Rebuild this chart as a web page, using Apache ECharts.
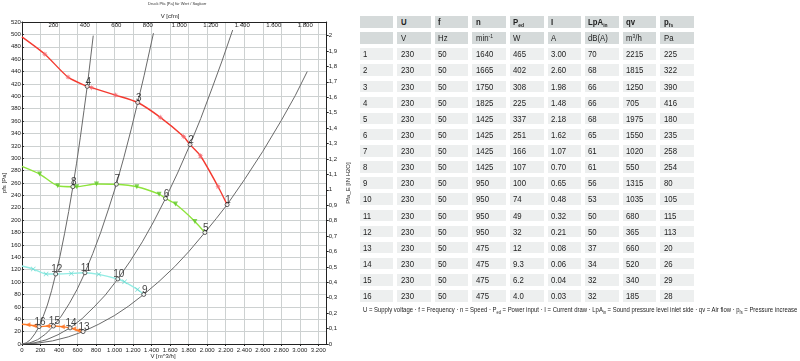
<!DOCTYPE html>
<html><head><meta charset="utf-8">
<script src="https://cdn.jsdelivr.net/npm/echarts@6/dist/echarts.min.js"></script>
<style>
html,body{margin:0;padding:0;background:#fff;width:800px;height:361px;overflow:hidden}
#chart{position:absolute;left:0;top:0;width:800px;height:361px}
.cell{position:absolute;height:11.5px;line-height:11.5px;font-family:"Liberation Sans",Arial,sans-serif;font-size:9.5px;color:#222;white-space:nowrap;box-sizing:border-box;padding-left:3.3px;overflow:visible}
.cell span{display:inline-block;transform:scaleX(0.82);transform-origin:0 50%}
.cell sub,.cell sup{font-size:6px;line-height:0}
.cell sub{vertical-align:-2px}
.cell sup{vertical-align:3px}
#note{position:absolute;left:363px;top:304px;line-height:11px;font-family:"Liberation Sans",Arial,sans-serif;font-size:7.6px;color:#222;white-space:nowrap;transform-origin:0 0}
#note sub{font-size:5px;line-height:0;vertical-align:-1.5px}
</style></head><body>
<div id="chart"></div>
<div id="table"></div>
<div id="note"></div>
<script>
// ---------- table data ----------
const rowIds = ['1','2','3','4','5','6','7','8','9','10','11','12','13','14','15','16'];
const colHeads = ['U','f','n','P<sub>ed</sub>','I','LpA<sub>in</sub>','qv','p<sub>fs</sub>'];
const colUnits = ['V','Hz','min<sup>-1</sup>','W','A','dB(A)','m<sup>3</sup>/h','Pa'];
const voltage = [230,230,230,230,230,230,230,230,230,230,230,230,230,230,230,230];
const frequency = [50,50,50,50,50,50,50,50,50,50,50,50,50,50,50,50];
const speed = [1640,1665,1750,1825,1425,1425,1425,1425,950,950,950,950,475,475,475,475];
const powerInput = ['465','402','308','225','337','251','166','107','100','74','49','32','12','9.3','6.2','4.0'];
const current = ['3.00','2.60','1.98','1.48','2.18','1.62','1.07','0.70','0.65','0.48','0.32','0.21','0.08','0.06','0.04','0.03'];
const soundLevel = [70,68,66,66,68,65,61,61,56,53,50,50,37,34,32,32];
const airFlow = [2215,1815,1250,705,1975,1550,1020,550,1315,1035,680,365,660,520,340,185];
const pressure = [225,322,390,416,180,235,258,254,80,105,115,113,20,26,29,28];
const footnote = 'U = Supply voltage · f = Frequency · n = Speed · P<sub>ed</sub> = Power input · I = Current draw · LpA<sub>in</sub> = Sound pressure level inlet side · qv = Air flow · p<sub>fs</sub> = Pressure increase';

// ---------- chart data ----------
const chartTitle = 'Druck Pfa [Pa] für Wert / Sogkorr';
const topAxisName = 'V [cfm]';
const bottomAxisName = 'V [m^3/h]';
const xTicksM3h = [0,200,400,600,800,1000,1200,1400,1600,1800,2000,2200,2400,2600,2800,3000,3200];
const curveGroups = [[0,1,2,3],[4,5,6,7],[8,9,10,11],[12,13,14,15]];      // operating points of each speed curve
const systemGroups = [[12,8,4,0],[13,9,5,1],[14,10,6,2],[15,11,7,3]];    // operating points on each system curve
const curveStartPressure = [496, 287, 126, 32];
const redMarkers = [[248,468],[498,431],[752,414],[1010,402],[1494,366],[1745,335],[1927,304],[2118,254]];
const greenMarkers = [[192,274.5],[387,255.5],[592,254],[805,258.5],[1240,254],[1481,242],[1658,226],[1867,198]];
const cyanMarkers = [[122,121],[261,113],[533,114],[830,112.5],[1108,100.5],[1248,88]];
const orangeMarkers = [[65,31],[133,29.5],[279,29],[436,28],[560,24.5],[605,22]];
const systemA = [[0,0],[165,1.3],[330,5],[500,11.5],[830,32],[1000,46],[1150,61],[1480,101],[1650,125],[1800,149],[2100,203],[2400,265],[2600,311],[2800,361],[2950,401],[3080,440]];
const systemB = [[0,0],[130,1.7],[260,6.6],[390,15],[650,41],[780,60],[900,79],[1170,134],[1300,165],[1420,197],[1680,276],[1930,364],[2050,412],[2160,457],[2275,507]];
const systemC = [[0,0],[85,1.8],[170,7],[255,16],[425,45],[510,65],[595,88],[765,146],[850,180],[935,218],[1100,301],[1180,347],[1320,434],[1420,502]];
const systemD = [[0,0],[46,1.8],[92,7],[140,16.5],[230,44.5],[275,63],[320,86],[410,141],[460,178],[505,214],[590,292],[630,333],[670,377],[740,460],[770,498]];

const X_MAX = 3290, Y_MAX = 520;
const CFM = 1.69901, INH2O = 249.0889;

function thousands(v){ v = Math.round(v); return v >= 1000 ? Math.floor(v/1000) + '.' + String(v%1000).padStart(3,'0') : String(v); }

const opPoints = airFlow.map((v,i)=>[v, pressure[i]]);
const markerSets = [redMarkers, greenMarkers, cyanMarkers, orangeMarkers];
const systemSets = [systemA, systemB, systemC, systemD];
const curveColors = ['#f43a30','#8ee43c','#93ece4','#ff7d2a'];
const markerColors = ['#f46a70','#62c82c','#62d6cc','#ff7424'];
const starPath = 'path://M0,-5L1.2,-1.2L5,0L1.2,1.2L0,5L-1.2,1.2L-5,0L-1.2,-1.2Z M-3.6,-3.6L0,-1.5L3.6,-3.6L1.5,0L3.6,3.6L0,1.5L-3.6,3.6L-1.5,0Z';
const crossPath = 'path://M-5,-4L-4,-5L0,-1L4,-5L5,-4L1,0L5,4L4,5L0,1L-4,5L-5,4L-1,0Z';
const markerSymbols = [starPath, 'triangle', crossPath, 'triangle'];
const markerRotate = [0, 180, 0, 90];
const markerSize = [6, 5, 5, 5];

const series = [];
// system resistance curves
systemSets.forEach((pts, k)=>{
  const data = pts.concat(systemGroups[k].map(i=>opPoints[i])).sort((a,b)=>a[0]-b[0]);
  series.push({type:'line', data, smooth:false, showSymbol:false, silent:true,
    lineStyle:{color:'#6a6a6a', width:1}, z:2});
});
// fan curves
markerSets.forEach((m, k)=>{
  const data = [[0, curveStartPressure[k]]].concat(m, curveGroups[k].map(i=>opPoints[i])).sort((a,b)=>a[0]-b[0]);
  series.push({type:'line', data, smooth:0.25, showSymbol:false, silent:true,
    lineStyle:{color:curveColors[k], width:1.4}, z:3});
  series.push({type:'scatter', data:m, symbol:markerSymbols[k], symbolRotate:markerRotate[k], symbolSize:markerSize[k], silent:true,
    itemStyle:{color:markerColors[k]}, z:4});
});
// operating points
series.push({type:'scatter', data:opPoints.map((p,i)=>({value:p, name:rowIds[i]})), symbol:'circle', symbolSize:4, silent:true,
  itemStyle:{color:'#ffffff', borderColor:'#3a3a3a', borderWidth:1}, z:6,
  label:{show:true, position:'inside', offset:[1,-4.5], formatter:p=>p.name, fontSize:10, color:'#111', fontFamily:'Liberation Sans'}});

const axisFont = {fontSize:6, color:'#222', fontFamily:'Liberation Sans'};
const option = {
  animation:false,
  backgroundColor:'#fff',
  textStyle:{fontFamily:'Liberation Sans'},
  graphic:[
    {type:'text', left:148, top:2, style:{text:chartTitle, fontSize:4, fill:'#333', fontFamily:'Liberation Sans'}},
    {type:'text', x:170, y:16, style:{text:topAxisName, fontSize:6, fill:'#222', fontFamily:'Liberation Sans', align:'center', verticalAlign:'middle'}},
    {type:'text', x:163, y:356.5, style:{text:bottomAxisName, fontSize:6, fill:'#222', fontFamily:'Liberation Sans', align:'center', verticalAlign:'middle'}}
  ],
  grid:{left:12.3, top:22, right:800-326.7, bottom:361-344},
  xAxis:[
    {type:'value', position:'bottom', min:0, max:X_MAX, interval:200,
     axisLine:{show:true, onZero:false, lineStyle:{color:'#222', width:1}},
     axisTick:{show:true, length:2, lineStyle:{color:'#222'}},
     axisLabel:Object.assign({margin:3, showMaxLabel:false, formatter:v=>xTicksM3h.includes(v)?thousands(v):''}, axisFont),
     splitLine:{show:true, lineStyle:{color:'#cdd1d1', width:1}}},
    {type:'value', position:'top', min:0, max:X_MAX/CFM, interval:200,
     axisLine:{show:true, onZero:false, lineStyle:{color:'#222', width:1}},
     axisTick:{show:true, inside:true, length:2, lineStyle:{color:'#222'}},
     axisLabel:Object.assign({inside:true, margin:0, showMinLabel:false, showMaxLabel:false, formatter:v=>thousands(v)}, axisFont),
     splitLine:{show:false}}
  ],
  yAxis:[
    {type:'value', position:'left', min:0, max:Y_MAX, interval:20,
     axisLine:{show:true, onZero:false, lineStyle:{color:'#222', width:1}},
     axisTick:{show:true, inside:true, length:2, lineStyle:{color:'#222'}},
     axisLabel:Object.assign({margin:1}, axisFont),
     splitLine:{show:true, lineStyle:{color:'#cdd1d1', width:1}},
     name:'pfs [Pa]', nameLocation:'middle', nameGap:8, nameRotate:90, nameTextStyle:Object.assign({}, axisFont)},
    {type:'value', position:'right', min:0, max:Y_MAX/INH2O, interval:0.1,
     axisLine:{show:true, onZero:false, lineStyle:{color:'#222', width:1}},
     axisTick:{show:true, length:2, lineStyle:{color:'#222'}},
     axisLabel:Object.assign({margin:2, showMaxLabel:false, formatter:v=>String(Math.round(v*10)/10).replace('.',',')}, axisFont),
     splitLine:{show:false},
     name:'Pfa_E [IN H2O]', nameLocation:'middle', nameGap:19, nameRotate:90, nameTextStyle:Object.assign({}, axisFont)}
  ],
  series
};
const chart = echarts.init(document.getElementById('chart'), null, {renderer:'canvas'});
chart.setOption(option);

// ---------- table ----------
const tbl = document.getElementById('table');
const X0 = 359.7, DX = 37.57, Y0 = 16, DY = 16.13, CW = 33.6;
function addCell(r, c, html, bg, bold){
  const d = document.createElement('div');
  d.className = 'cell';
  d.style.left = (X0 + c*DX) + 'px';
  d.style.top = (Y0 + r*DY) + 'px';
  d.style.width = CW + 'px';
  d.style.background = bg;
  if (bold) d.style.fontWeight = 'bold';
  const s = document.createElement('span');
  s.innerHTML = html;
  d.appendChild(s);
  tbl.appendChild(d);
}
const HEAD_BG = '#d5dada', BODY_BG = '#edefef';
addCell(0,0,'',HEAD_BG,true);
colHeads.forEach((h,c)=>addCell(0,c+1,h,HEAD_BG,true));
addCell(1,0,'',HEAD_BG,false);
colUnits.forEach((h,c)=>addCell(1,c+1,h,HEAD_BG,false));
rowIds.forEach((id,i)=>{
  const vals = [id, voltage[i], frequency[i], speed[i], powerInput[i], current[i], soundLevel[i], airFlow[i], pressure[i]];
  vals.forEach((v,c)=>addCell(i+2, c, String(v), BODY_BG, false));
});
const note = document.getElementById('note');
note.innerHTML = footnote;
const w = note.scrollWidth;
note.style.transform = 'scaleX(' + (434 / w) + ')';
</script>
</body></html>
